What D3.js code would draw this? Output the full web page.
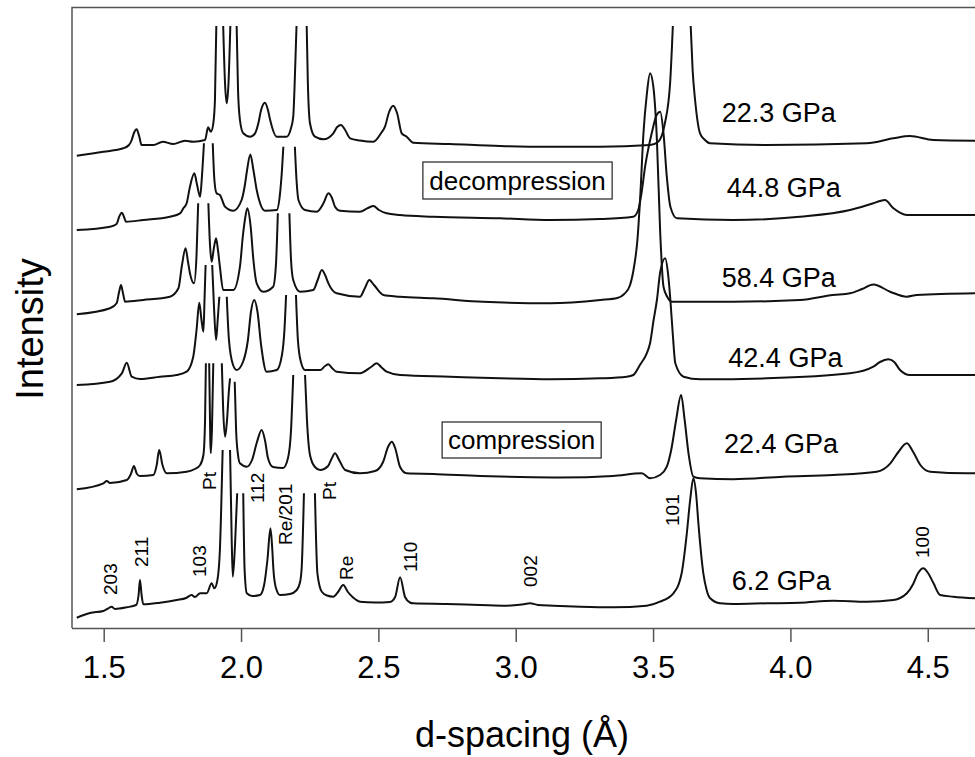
<!DOCTYPE html>
<html>
<head>
<meta charset="utf-8">
<script src="https://cdn.jsdelivr.net/npm/d3@7"></script>
<style>
  body { margin: 0; background: #fff; }
  text { font-family: "Liberation Sans", Arial, sans-serif; fill: #000; }
</style>
</head>
<body>
<div id="chart"></div>
<script>
// Data: [d-spacing (Å), intensity above the pattern's own offset], null = clipped peak top
const p62 = [
  [1.402,10.3],[1.450,15],[1.499,17],[1.516,19.5],[1.529,21.3],[1.541,19],[1.584,20.7],[1.618,23],[1.627,33],[1.632,48],[1.638,33],[1.644,23.7],
  [1.705,25.3],[1.766,28],[1.800,30],[1.820,33],[1.832,31],[1.851,34.7],[1.875,34.7],[1.893,44.7],[1.903,39.7],[1.914,48],[1.923,78],[1.933,178],
  null,
  [1.960,178],[1.966,88],[1.970,51.3],[1.978,83],[1.986,134.7],
  null,
  [2.008,134.7],[2.013,58],[2.021,34.7],[2.040,32],[2.069,33],[2.084,43],[2.096,68],[2.107,99.7],[2.113,82],[2.118,58],[2.127,40],[2.142,33],
  [2.178,34],[2.203,38],[2.215,46],[2.221,61.3],[2.229,134.7],
  null,
  [2.269,134.7],[2.278,54.7],[2.294,36.3],[2.313,32.5],[2.336,31.3],[2.353,36],[2.372,43],[2.389,36],[2.408,30.5],[2.433,26.3],[2.488,25.5],
  [2.542,26],[2.561,31],[2.579,50.7],[2.597,31],[2.615,25.5],[2.627,24.7],[2.749,24],[2.870,23],[2.967,22.3],[3.023,23.5],[3.052,24.7],[3.081,23],
  [3.137,22.3],[3.235,21.3],[3.355,20.7],[3.477,22.3],[3.525,26.3],[3.574,34.7],[3.604,54.7],[3.623,95],[3.635,128],[3.647,149.7],[3.657,133],
  [3.665,104.7],[3.683,54.7],[3.695,38],[3.708,29.7],[3.744,24.7],[3.792,24],[3.914,24.7],[4.035,25.3],[4.156,27.3],[4.278,26.3],[4.375,28],
  [4.424,34.7],[4.447,44],[4.465,55],[4.484,59.7],[4.501,55],[4.521,44.7],[4.545,33],[4.593,31.3],[4.672,29.7]
]

const p224 = [
  [1.402,8.7],[1.499,14.7],[1.511,17],[1.523,15],[1.584,18],[1.599,24],[1.610,32],[1.621,24],[1.632,22],[1.681,23],[1.693,33],[1.702,48],[1.714,33],
  [1.729,24.7],[1.802,26.3],[1.832,29],[1.851,33],[1.863,43],[1.869,78],[1.872,134.7],
  null,
  [1.884,134.7],[1.888,58],[1.890,44.7],[1.894,68],[1.899,134.7],
  null,
  [1.930,134.7],[1.935,88],[1.942,61.3],[1.949,78],[1.956,108],[1.960,119.7],
  null,
  [1.977,116.3],[1.982,68],[1.989,43],[1.996,34.7],[2.021,31.3],[2.040,38],[2.058,56],[2.075,68],[2.087,58],[2.098,40],[2.116,31],[2.153,30],
  [2.171,40],[2.182,68],[2.190,123],
  null,
  [2.233,123],[2.240,78],[2.251,43],[2.269,31],[2.288,28],[2.317,32],[2.331,40],[2.342,44.7],[2.357,38],[2.379,28],[2.433,24.7],[2.488,27],
  [2.517,36],[2.535,51],[2.549,56.3],[2.561,50],[2.579,31],[2.603,24.7],[2.699,24],[2.870,22],[3.016,21],[3.161,20.5],[3.354,22],[3.459,24.7],
  [3.489,19.7],[3.525,23],[3.550,31.3],[3.566,48],[3.584,78],[3.602,103],[3.615,78],[3.629,44.7],[3.647,21.3],[3.671,19.7],[3.792,18.7],
  [3.973,21.3],[4.155,23],[4.314,26.3],[4.364,34.7],[4.393,46],[4.424,54.7],[4.447,46],[4.473,33],[4.509,26.3],[4.642,24.7],[4.672,24.7]
]

const p424 = [
  [1.402,23],[1.523,26.3],[1.566,34.7],[1.584,45.3],[1.602,31.3],[1.632,29],[1.705,31.3],[1.766,33],[1.802,36.3],[1.826,51.3],[1.838,78],
  [1.848,105.3],[1.856,88],[1.863,76.3],[1.867,108],[1.871,143],
  null,
  [1.895,143],[1.902,98],[1.909,68],[1.915,88],[1.921,111.3],
  null,
  [1.948,111.3],[1.956,68],[1.971,43],[1.984,38],[2.007,46],[2.025,68],[2.036,96],[2.048,108],[2.060,96],[2.073,63],[2.093,36.3],[2.130,38],
  [2.149,53],[2.158,78],[2.164,113],
  null,
  [2.200,113],[2.207,68],[2.218,46],[2.233,38],[2.288,38],[2.306,42],[2.318,43.7],[2.331,40],[2.348,36.3],[2.433,34.7],[2.473,41],[2.494,44.7],
  [2.510,41],[2.530,36.3],[2.579,33],[2.761,31.3],[2.943,29.7],[3.125,28.7],[3.308,29.7],[3.404,31.3],[3.428,33],[3.452,43],[3.477,54.7],
  [3.489,64.7],[3.502,88],[3.514,108],[3.526,136],[3.544,149.7],[3.555,133],[3.563,108],[3.572,73],[3.581,44.7],[3.611,31.3],[3.671,28.7],
  [3.914,29.7],[4.217,34.7],[4.302,41.3],[4.326,46],[4.356,48.7],[4.378,46],[4.399,38],[4.435,33],[4.672,33]
]

const p584 = [
  [1.402,13.7],[1.523,19.7],[1.547,24.7],[1.556,36],[1.563,43],[1.570,35],[1.578,26.3],[1.644,28],[1.741,31.3],[1.772,39.7],[1.785,63],
  [1.798,79.7],[1.807,66],[1.814,54.7],[1.829,44.7],[1.838,73],[1.844,124.7],
  null,
  [1.881,124.7],[1.887,83],[1.893,66.3],[1.900,78],[1.909,89.7],[1.916,78],[1.923,61.3],[1.935,38],[1.972,38],[1.996,61.3],[2.007,93],
  [2.014,108],[2.023,119.7],[2.035,101.3],[2.045,68],[2.057,44.7],[2.081,36.3],[2.117,41.3],[2.127,63],[2.134,114.7],
  null,
  [2.176,114.7],[2.182,68],[2.190,48],[2.215,36.3],[2.263,38],[2.279,48],[2.294,58],[2.306,53],[2.318,44.7],[2.348,34.7],[2.433,31.3],
  [2.451,40],[2.467,48],[2.484,43],[2.518,33],[2.579,31.3],[2.699,29.7],[2.881,26.3],[3.125,24.7],[3.308,28],[3.370,30],[3.395,34],
  [3.415,42],[3.430,60],[3.443,88],[3.454,135],[3.465,194.7],[3.477,233],[3.489,254.7],[3.501,241.3],[3.514,188],[3.526,95],[3.538,41.3],
  [3.552,31],[3.569,26.3],[3.791,26.3],[4.035,28],[4.155,33],[4.217,34.7],[4.261,39],[4.302,43.5],[4.363,36.3],[4.424,31.3],[4.460,33],[4.672,34.7]
]

const p448 = [
  [1.402,18],[1.523,21.3],[1.547,24],[1.556,31],[1.566,35.3],[1.574,31],[1.581,26.3],[1.644,28],[1.741,31.3],[1.778,34.7],[1.790,39.7],
  [1.802,44.7],[1.814,61.3],[1.830,74.7],[1.840,63],[1.851,51.3],[1.858,73],[1.865,104.7],
  null,
  [1.897,104.7],[1.903,68],[1.911,54.7],[1.923,53],[1.942,41.3],[1.972,37.3],[2.002,48],[2.014,63],[2.022,78],[2.034,93.5],[2.045,78],
  [2.057,58],[2.069,45],[2.087,37.3],[2.130,38],[2.142,54.7],[2.149,78],[2.154,101.3],
  null,
  [2.196,101.3],[2.202,68],[2.209,48],[2.233,38],[2.276,36.3],[2.300,44.7],[2.318,54.7],[2.331,50],[2.342,41.3],[2.360,37.3],[2.433,36.3],
  [2.462,40],[2.482,42],[2.502,38],[2.530,34.7],[2.579,33],[2.700,31.3],[2.943,29.7],[3.125,28],[3.308,29],[3.428,31.3],[3.446,38],
  [3.458,55],[3.471,81.3],[3.495,114.7],[3.513,133],[3.526,136.3],[3.538,114.7],[3.550,71.3],[3.563,41.3],[3.587,29.7],[3.792,28],
  [4.035,31.3],[4.217,38],[4.302,44.7],[4.326,47],[4.344,48],[4.375,39.7],[4.424,33],[4.520,33],[4.672,33]
]

const p223 = [
  [1.402,17.3],[1.499,21.3],[1.571,24.7],[1.592,28],[1.602,33],[1.610,40],[1.620,43.7],[1.629,37],[1.638,28],[1.681,28],[1.715,31.3],
  [1.753,29],[1.796,32.3],[1.826,31.3],[1.869,33],[1.880,45.7],[1.890,41.3],[1.899,49.7],[1.905,73],[1.910,147],
  null,
  [1.935,147],[1.942,88],[1.948,69.7],[1.954,88],[1.961,147],
  null,
  [1.984,147],[1.989,83],[1.996,53],[2.008,39.7],[2.033,36.3],[2.051,39.7],[2.063,49.7],[2.073,63],[2.087,70.3],[2.098,63],[2.106,53],
  [2.130,36.3],[2.166,36.3],[2.182,45],[2.190,56.3],[2.198,113],[2.202,147],
  null,
  [2.239,147],[2.243,93],[2.251,49.7],[2.269,36.3],[2.300,33.7],[2.336,39.7],[2.350,46],[2.364,48],[2.379,43],[2.397,34.7],[2.433,32.5],
  [2.482,31.3],[2.510,40],[2.524,46.3],[2.539,61],[2.554,67.3],[2.568,60],[2.585,39.7],[2.603,36.3],[2.627,30.3],[2.761,29],[2.943,27],
  [3.125,26.3],[3.308,26.3],[3.489,28],[3.519,31.3],[3.543,49.7],[3.562,89.7],[3.572,147],
  null,
  [3.637,147],[3.644,103],[3.653,73],[3.671,39.7],[3.689,33],[3.707,29.7],[3.914,28],[4.278,29.7],[4.375,34.7],[4.435,37],[4.520,33],[4.672,32.3]
]

const patterns = [p62, p224, p424, p584, p448, p223]
const pressures = ['6.2 GPa', '22.4 GPa', '42.4 GPa', '58.4 GPa', '44.8 GPa', '22.3 GPa']
const offsets = [0, 130, 220, 300, 380, 455]

// Reflection labels on the 6.2 GPa pattern
const peakNames = ['203', '211', '103', 'Pt', '112', 'Re/201', 'Pt', 'Re', '110', '002', '101', '100']
const peakD = [1.547, 1.661, 1.872, 1.909, 2.083, 2.186, 2.346, 2.408, 2.641, 3.078, 3.595, 4.505]
const peakI = [33, 61, 51, 138, 125, 83, 128, 48, 56, 41, 102, 70]

const xTicks = [1.5, 2.0, 2.5, 3.0, 3.5, 4.0, 4.5]

// Dimensions
const dimensions = {
  width: 975,
  height: 757,
  left: 72,
  right: 975,
  top: 7.5,
  bottom: 628
}

const svg = d3.select('#chart')
  .append('svg')
    .attr('width', dimensions.width)
    .attr('height', dimensions.height)

// Scales
const x = d3.scaleLinear()
  .domain([1.3846, 4.672])
  .range([dimensions.left, dimensions.right])

const y = d3.scaleLinear()
  .domain([0, 620])
  .range([dimensions.bottom, dimensions.top + 0.5])

svg.append('clipPath')
  .attr('id', 'plotclip')
  .append('rect')
    .attr('x', dimensions.left)
    .attr('y', dimensions.top)
    .attr('width', dimensions.right - dimensions.left)
    .attr('height', dimensions.bottom - dimensions.top)

const ctr = svg.append('g').attr('clip-path', 'url(#plotclip)')

// patterns
patterns.forEach((pts, k) => {
  const line = d3.line()
    .defined(p => p !== null)
    .x(p => x(p[0]))
    .y(p => y(p[1] + offsets[k]))
    .curve(d3.curveMonotoneX)

  ctr.append('path')
    .datum(pts)
    .attr('d', line)
    .attr('fill', 'none')
    .attr('stroke', '#111')
    .attr('stroke-width', 2)
    .attr('stroke-linejoin', 'round')
})

// pressure labels
const labelD = [3.786, 3.758, 3.774, 3.750, 3.768, 3.750]
const labelI = [38, 45.3, 41, 41, 51, 51.3]
svg.selectAll('text.pressure')
  .data(pressures)
  .join('text')
  .attr('class', 'pressure')
  .attr('x', (d, i) => x(labelD[i]))
  .attr('y', (d, i) => y(labelI[i] + offsets[i]))
  .style('font-size', '27px')
  .text(d => d)

// reflection labels
svg.selectAll('text.peak')
  .data(peakNames)
  .join('text')
  .attr('class', 'peak')
  .attr('transform', (d, i) => `translate(${x(peakD[i])},${y(peakI[i])}) rotate(-90)`)
  .style('font-size', '19px')
  .text(d => d)

// boxed notes
const notes = ['decompression', 'compression']
const noteD = [[2.662, 3.351], [2.732, 3.311]]
const noteV = [[466, 429], [206, 170]]
notes.forEach((t, i) => {
  const x0 = x(noteD[i][0]), x1 = x(noteD[i][1])
  const y0 = y(noteV[i][0]), y1 = y(noteV[i][1])
  svg.append('rect')
    .attr('x', x0).attr('y', y0)
    .attr('width', x1 - x0).attr('height', y1 - y0)
    .attr('fill', '#fff')
    .attr('stroke', '#222')
    .attr('stroke-width', 1.2)
  svg.append('text')
    .attr('x', (x0 + x1) / 2)
    .attr('y', (y0 + y1) / 2)
    .attr('dy', '0.35em')
    .attr('text-anchor', 'middle')
    .style('font-size', '26px')
    .text(t)
})

// frame
const frameColor = '#555'
svg.append('path')
  .attr('d', `M${dimensions.right},${dimensions.top}H${dimensions.left}V${dimensions.bottom}`)
  .attr('fill', 'none')
  .attr('stroke', frameColor)
  .attr('stroke-width', 1.5)

// x axis
const xAxis = d3.axisBottom(x)
  .tickValues(xTicks)
  .tickFormat(d3.format('.1f'))
  .tickSize(14)
  .tickPadding(14)

const xg = svg.append('g')
  .attr('transform', `translate(0, ${dimensions.bottom})`)
  .call(xAxis)

xg.select('.domain')
  .attr('d', `M${dimensions.left},0.5H${dimensions.right}`)
  .attr('stroke', frameColor)
  .attr('stroke-width', 1.5)
xg.selectAll('.tick line')
  .attr('stroke', frameColor)
  .attr('stroke-width', 1.5)
xg.selectAll('.tick text')
  .attr('fill', '#000')
  .style('font-size', '31px')
  .style('font-family', '"Liberation Sans", Arial, sans-serif')

// axis titles
svg.append('text')
  .attr('x', 522)
  .attr('y', 747)
  .attr('text-anchor', 'middle')
  .style('font-size', '36px')
  .text('d-spacing (Å)')

svg.append('text')
  .attr('transform', 'translate(43, 329) rotate(-90)')
  .attr('text-anchor', 'middle')
  .style('font-size', '38px')
  .text('Intensity')
</script>
</body>
</html>
